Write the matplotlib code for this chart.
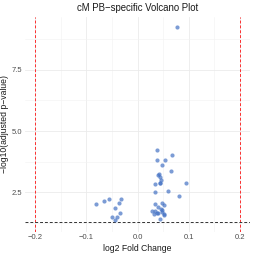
"""
cM PB-specific volcano plot (ggplot theme_minimal look)
"""

import numpy as np
import matplotlib
matplotlib.use('Agg')
import matplotlib.pyplot as plt
from matplotlib.ticker import FixedLocator

plt.rcParams['font.family'] = ['Liberation Sans', 'DejaVu Sans']

# 数据：log2 fold change 与 -log10(adjusted p)
log2fc = [
    -0.082, -0.065, -0.056, -0.033, -0.037, -0.044, -0.034, -0.050, -0.040, -0.044,
    0.077, 0.039, 0.067, 0.054, 0.039, 0.047, 0.066, 0.042, 0.044, 0.040,
    0.045, 0.043, 0.034, 0.043, 0.094, 0.035, 0.059, 0.082, 0.035, 0.048,
    0.052, 0.041, 0.045, 0.029, 0.035, 0.039, 0.047, 0.048, 0.033, 0.041,
    0.051, 0.052, 0.043,
]
neglog10_padj = [
    2.03, 2.14, 2.23, 2.23, 2.07, 1.88, 1.68, 1.50, 1.50, 1.38,
    9.25, 4.23, 4.02, 3.82, 3.81, 3.60, 3.38, 3.27, 3.12, 3.21,
    3.01, 2.87, 2.85, 2.87, 2.89, 2.53, 2.55, 2.34, 2.04, 2.08,
    1.99, 1.91, 1.84, 1.74, 1.76, 1.68, 1.79, 1.70, 1.61, 1.65,
    1.64, 1.58, 1.42,
]

fc_cutoff = 0.2
p_cutoff = 0.05

title = 'cM PB\u2212specific Volcano Plot'
x_label = 'log2 Fold Change'
y_label = '\u2212log10(adjusted p\u2212value)'
x_ticks = [-0.2, -0.1, 0.0, 0.1, 0.2]
x_ticklabels = ['\u22120.2', '\u22120.1', '0.0', '0.1', '0.2']
y_ticks = [2.5, 5.0, 7.5]
y_ticklabels = ['2.5', '5.0', '7.5']

fig = plt.figure(figsize=(2.54, 2.54), dpi=100)
ax = fig.add_axes([0.0984, 0.0878, 0.886, 0.846])

# 网格（主/次）
ax.set_axisbelow(True)
ax.grid(True, which='major', color='#EBEBEB', linewidth=0.6)
ax.grid(True, which='minor', color='#F2F2F2', linewidth=0.4)
ax.xaxis.set_minor_locator(FixedLocator([-0.15, -0.05, 0.05, 0.15]))
ax.yaxis.set_minor_locator(FixedLocator([1.25, 3.75, 6.25, 8.75]))

ax.scatter(log2fc, neglog10_padj, s=9, color='#4472C4', alpha=0.7,
           linewidths=0, zorder=3)

# 阈值线
thr = -np.log10(p_cutoff)
ax.axvline(-fc_cutoff, color='#FF0000', linestyle=(0, (3, 2)), linewidth=0.7, alpha=0.8, zorder=2)
ax.axvline(fc_cutoff, color='#FF0000', linestyle=(0, (3, 2)), linewidth=0.7, alpha=0.8, zorder=2)
ax.axhline(thr, color='#333333', linestyle=(0, (3, 2)), linewidth=0.7, zorder=2)

# 坐标范围（ggplot 5% 扩展）
xmin, xmax = -fc_cutoff, fc_cutoff
xpad = 0.05 * (xmax - xmin)
ax.set_xlim(xmin - xpad, xmax + xpad)
ymin, ymax = min(min(neglog10_padj), thr), max(neglog10_padj)
ypad = 0.05 * (ymax - ymin)
ax.set_ylim(ymin - ypad, ymax + ypad)

ax.set_xticks(x_ticks)
ax.set_xticklabels(x_ticklabels)
ax.set_yticks(y_ticks)
ax.set_yticklabels(y_ticklabels)
ax.tick_params(which='both', length=0, labelsize=5.5, labelcolor='#4D4D4D', pad=2)

for s in ax.spines.values():
    s.set_visible(False)

ax.set_title(title, fontsize=6.9, color='#1A1A1A', pad=4)
ax.set_xlabel(x_label, fontsize=6.2, color='#1A1A1A', labelpad=2)
ax.set_ylabel(y_label, fontsize=6.2, color='#1A1A1A')
ax.yaxis.set_label_coords(-0.072, 0.5)

fig.savefig('out.png', dpi=100, facecolor='white')
plt.close(fig)
